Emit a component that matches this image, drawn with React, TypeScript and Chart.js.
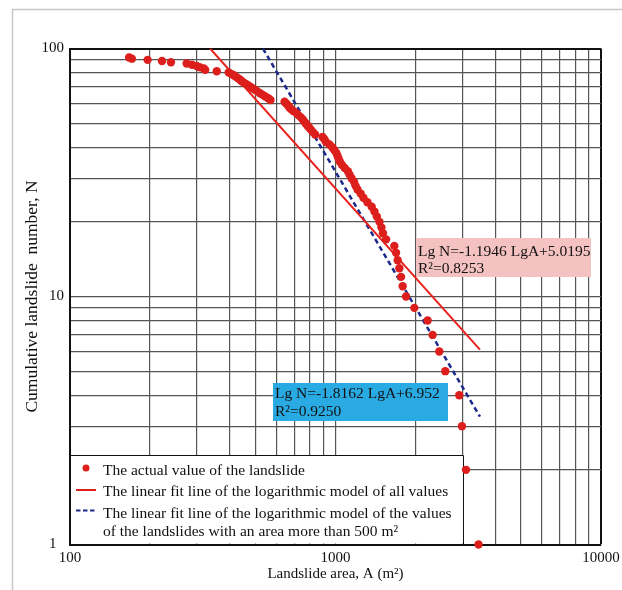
import React, { useEffect, useRef } from 'react';
import { Chart, registerables } from 'chart.js';

Chart.register(...registerables);

// Landslide area (m²) of each landslide, ordered by cumulative number N
const AREA = [
  167, 171, 196, 222, 240, 275, 288, 300, 308, 319, 323, 357,
  396, 405, 414, 421, 428, 436, 442, 450, 460, 469, 479, 488, 499, 509, 520, 532, 544, 558, 569,
  643, 652, 662, 670, 679, 693, 711, 723, 737, 750, 760, 771, 782, 795, 808, 822, 838,
  894, 909, 921, 949, 972, 989, 1006, 1016, 1026, 1038, 1057, 1083, 1113, 1130, 1149, 1174, 1189,
  1210, 1244, 1274, 1319, 1369, 1402, 1431, 1464, 1489, 1509, 1551,
  1666, 1691, 1715, 1740, 1766, 1791, 1844, 1981, 2223, 2322, 2460, 2591, 2925, 2994, 3100, 3457,
];
// Cumulative landslide number N
const COUNT = [
  92, 91, 90, 89, 88, 87, 86, 85, 84, 83, 82, 81,
  80, 79, 78, 77, 76, 75, 74, 73, 72, 71, 70, 69, 68, 67, 66, 65, 64, 63, 62,
  61, 60, 59, 58, 57, 56, 55, 54, 53, 52, 51, 50, 49, 48, 47, 46, 45,
  44, 43, 42, 41, 40, 39, 38, 37, 36, 35, 34, 33, 32, 31, 30, 29, 28,
  27, 26, 25, 24, 23, 22, 21, 20, 19, 18, 17,
  16, 15, 14, 13, 12, 11, 10, 9, 8, 7, 6, 5, 4, 3, 2, 1,
];

// Fit lines: Lg N = slope * Lg A + intercept
const FIT_ALL = { slope: -1.1946, intercept: 5.0195, r2: '0.8253' };
const FIT_ALL_RANGE = [337, 3500];
const FIT_500 = { slope: -1.8162, intercept: 6.952, r2: '0.9250' };
const FIT_500_RANGE = [533, 3500];

const X_TICKS = [100, 200, 300, 400, 500, 600, 700, 800, 900, 1000, 2000, 3000, 4000, 5000, 6000, 7000, 8000, 9000, 10000];
const X_LABELS = [100, 1000, 10000];
const Y_TICKS = [1, 2, 3, 4, 5, 6, 7, 8, 9, 10, 20, 30, 40, 50, 60, 70, 80, 90, 100];
const Y_LABELS = [1, 10, 100];

const LEGEND_TEXT = [
  'The actual value of the landslide',
  'The linear fit line of the logarithmic model of all values',
  'The linear fit line of the logarithmic model of the values',
  'of the landslides with an area more than 500 m²',
];

const SERIF = "'Liberation Serif', 'Times New Roman', serif";
const RED = '#dc1f1c';
const NAVY = '#1c2a8c';

const fitLine = (f: { slope: number; intercept: number }, range: number[]) =>
  range.map((a) => ({ x: a, y: Math.pow(10, f.slope * Math.log10(a) + f.intercept) }));

const eqText = (f: { slope: number; intercept: number }) =>
  `Lg N=${f.slope} LgA+${f.intercept}`;

const overlayPlugin = {
  id: 'overlay',
  beforeDraw(chart: any) {
    const c = chart.ctx;
    c.save();
    c.strokeStyle = '#c6c6c6';
    c.lineWidth = 1.5;
    c.beginPath();
    c.moveTo(12.5, 590);
    c.lineTo(12.5, 9.5);
    c.lineTo(622, 9.5);
    c.stroke();
    c.restore();
  },
  beforeDatasetsDraw(chart: any) {
    const c = chart.ctx;
    const ca = chart.chartArea;
    c.save();
    c.font = `15.5px ${SERIF}`;
    c.textAlign = 'left';
    c.textBaseline = 'alphabetic';

    // pink equation box
    c.fillStyle = '#f4c2c1';
    c.fillRect(416, 238, 175, 39);
    c.fillStyle = '#111';
    c.fillText(eqText(FIT_ALL), 418, 256);
    c.fillText(`R²=${FIT_ALL.r2}`, 418, 273);

    // blue equation box
    c.fillStyle = '#2aaae2';
    c.fillRect(273, 383, 175, 38);
    c.fillStyle = '#111';
    c.fillText(eqText(FIT_500), 275, 397.5);
    c.fillText(`R²=${FIT_500.r2}`, 275, 416);

    // legend box
    const lx = ca.left;
    const lr = 463.5;
    const lt = 455.5;
    c.fillStyle = '#fff';
    c.fillRect(lx + 1, lt, lr - lx - 1, ca.bottom - lt - 1);
    c.strokeStyle = '#111';
    c.lineWidth = 1;
    c.beginPath();
    c.moveTo(lx, lt);
    c.lineTo(lr, lt);
    c.lineTo(lr, ca.bottom);
    c.stroke();

    c.fillStyle = RED;
    c.beginPath();
    c.arc(86, 468, 3.5, 0, Math.PI * 2);
    c.fill();

    c.strokeStyle = RED;
    c.lineWidth = 2;
    c.beginPath();
    c.moveTo(76, 490);
    c.lineTo(96, 490);
    c.stroke();

    c.strokeStyle = NAVY;
    c.lineWidth = 2;
    c.setLineDash([4.5, 2.5]);
    c.beginPath();
    c.moveTo(76, 510.5);
    c.lineTo(97, 510.5);
    c.stroke();
    c.setLineDash([]);

    c.fillStyle = '#111';
    const ys = [474.5, 496, 517.5, 536];
    LEGEND_TEXT.forEach((t, i) => c.fillText(t, 103, ys[i]));
    c.restore();
  },
};

export default function App() {
  const ref = useRef<HTMLCanvasElement | null>(null);

  useEffect(() => {
    if (!ref.current) return;
    const points = AREA.map((a, i) => ({ x: a, y: COUNT[i] }));
    const gridColor = (edge: number) => (ctx: any) =>
      ctx.tick && ctx.tick.value === edge ? '#111' : '#555';
    const gridWidth = (edge: number) => (ctx: any) =>
      ctx.tick && ctx.tick.value === edge ? 2 : 1.2;

    const chart = new Chart(ref.current, {
      type: 'scatter',
      data: {
        datasets: [
          {
            label: 'The actual value of the landslide',
            data: points,
            backgroundColor: RED,
            borderColor: RED,
            pointRadius: 4.2,
            pointBorderWidth: 0,
            clip: false,
            order: 0,
          },
          {
            label: 'The linear fit line of the logarithmic model of all values',
            type: 'line',
            data: fitLine(FIT_ALL, FIT_ALL_RANGE),
            borderColor: '#e8221c',
            borderWidth: 2,
            pointRadius: 0,
            fill: false,
            order: 1,
          },
          {
            label: 'The linear fit line of the logarithmic model of the values of the landslides with an area more than 500 m²',
            type: 'line',
            data: fitLine(FIT_500, FIT_500_RANGE),
            borderColor: NAVY,
            borderWidth: 2.5,
            borderDash: [5, 3.5],
            pointRadius: 0,
            fill: false,
            order: 1,
          },
        ],
      } as any,
      options: {
        responsive: false,
        animation: false,
        devicePixelRatio: 1,
        layout: { padding: { left: 0, top: 48.5, right: 21, bottom: 0 } },
        plugins: {
          legend: { display: false },
          tooltip: { enabled: false },
        },
        scales: {
          x: {
            type: 'logarithmic',
            min: 100,
            max: 10000,
            afterBuildTicks: (s: any) => {
              s.ticks = X_TICKS.map((v) => ({ value: v }));
            },
            afterFit: (s: any) => {
              s.height = 45.5;
              s.paddingLeft = 0;
              s.paddingRight = 0;
            },
            ticks: {
              autoSkip: false,
              maxRotation: 0,
              padding: 5,
              color: '#111',
              font: { family: SERIF, size: 15 },
              callback: (v: any) => (X_LABELS.includes(Number(v)) ? String(v) : ''),
            },
            grid: { color: gridColor(10000), lineWidth: gridWidth(10000), drawTicks: false },
            border: { display: true, color: '#111', width: 2 },
            title: {
              display: true,
              text: 'Landslide area, A (m²)',
              color: '#111',
              font: { family: SERIF, size: 15 },
              padding: { top: 0, bottom: 7 },
            },
          },
          y: {
            type: 'logarithmic',
            min: 1,
            max: 100,
            afterBuildTicks: (s: any) => {
              s.ticks = Y_TICKS.map((v) => ({ value: v }));
            },
            afterFit: (s: any) => {
              s.width = 70;
              s.paddingTop = 0;
              s.paddingBottom = 0;
            },
            ticks: {
              autoSkip: false,
              padding: 6,
              color: '#111',
              font: { family: SERIF, size: 15 },
              callback: (v: any) => (Y_LABELS.includes(Number(v)) ? (Number(v) === 1 ? '1  ' : String(v)) : ''),
            },
            grid: { color: gridColor(100), lineWidth: gridWidth(100), drawTicks: false },
            border: { display: true, color: '#111', width: 2 },
            title: {
              display: true,
              text: 'Cumulative landslide  number, N',
              color: '#111',
              font: { family: SERIF, size: 17.5 },
              padding: { top: 22, bottom: 0 },
            },
          },
        },
      } as any,
      plugins: [overlayPlugin],
    });
    return () => chart.destroy();
  }, []);

  return (
    <div style={{ position: 'absolute', left: 0, top: 0, width: 622, height: 590, background: '#fff' }}>
      <canvas ref={ref} width={622} height={590} style={{ display: 'block' }} />
    </div>
  );
}
